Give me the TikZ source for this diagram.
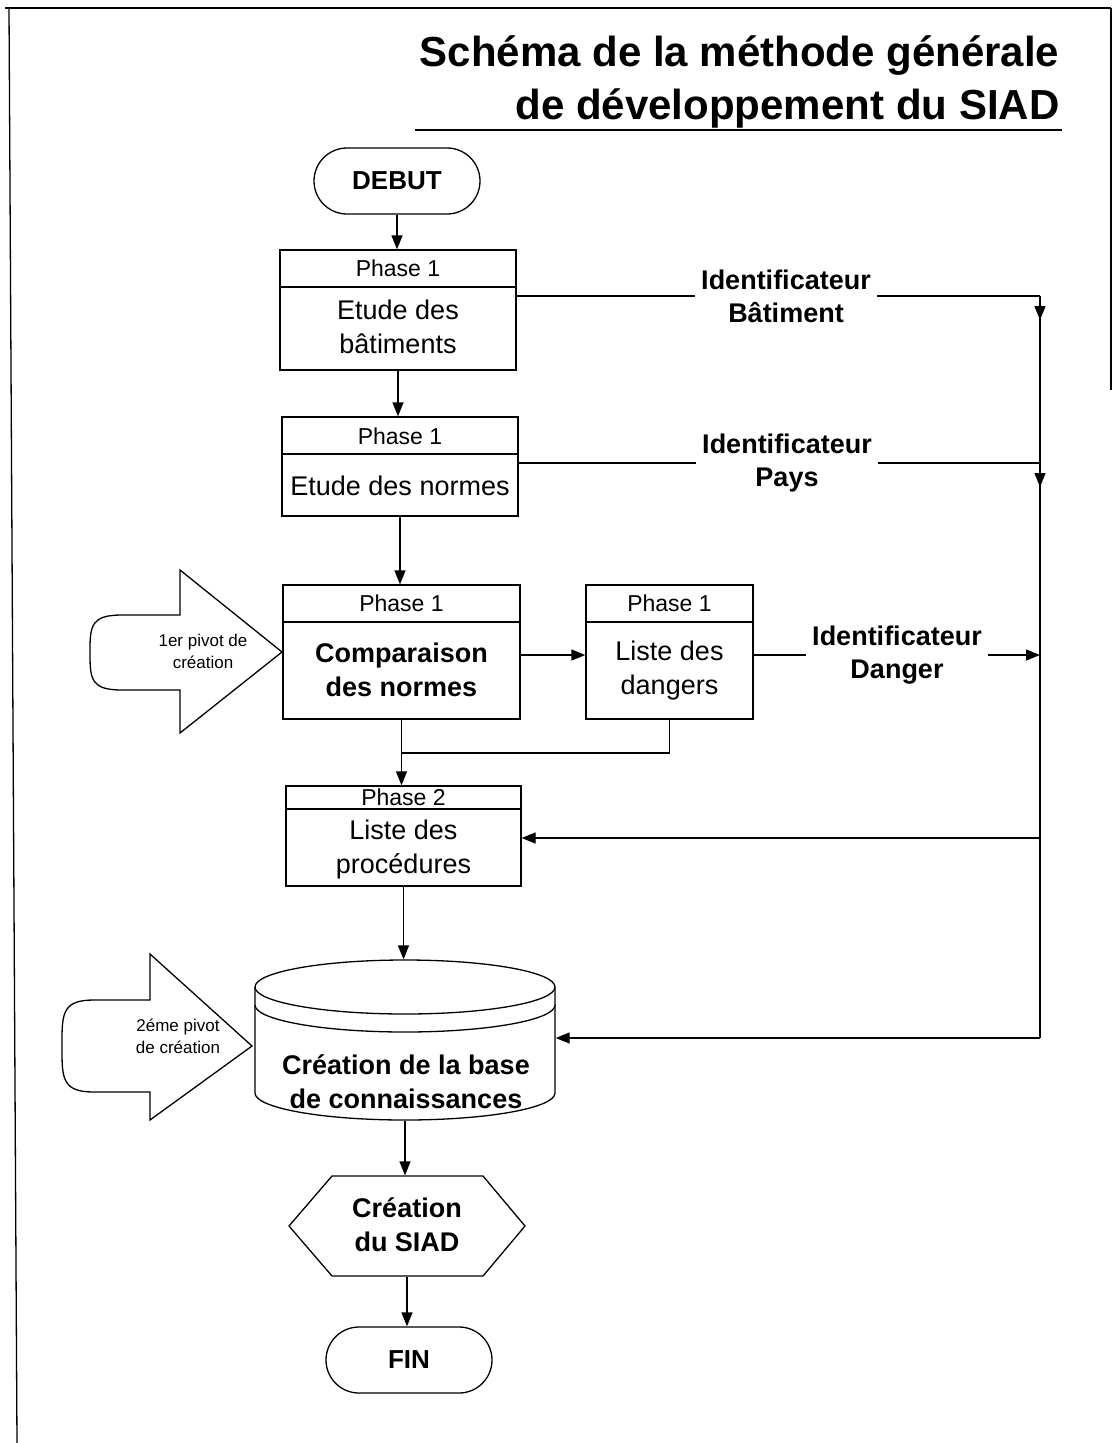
\documentclass[tikz,border=0pt]{standalone}
\usepackage{fontspec}
\setmainfont{Liberation Sans}
\usetikzlibrary{arrows.meta,shapes.misc,calc}
\begin{document}
\begin{tikzpicture}[x=1pt,y=-1pt,line width=1.3pt,
  arr/.style={-{Triangle[length=14pt,width=11pt]}},
  boxst/.style={draw,inner sep=0pt,fill=white},
  hdr/.style={font=\fontsize{23}{27}\selectfont,inner sep=0pt},
  bodyt/.style={font=\fontsize{27}{34}\selectfont,align=center,inner sep=0pt},
  bodyb/.style={font=\bfseries\fontsize{27}{34}\selectfont,align=center,inner sep=0pt},
  lbl/.style={font=\bfseries\fontsize{27}{33}\selectfont,align=center,inner xsep=6pt,inner ysep=0pt},
  term/.style={draw,fill=white,rounded rectangle,minimum width=166pt,minimum height=66pt,inner sep=0pt,font=\bfseries\fontsize{26}{30}\selectfont},
  pivt/.style={font=\fontsize{17}{22}\selectfont,align=center,inner sep=0pt},
  ttl/.style={font=\bfseries\fontsize{42}{48}\selectfont,inner sep=0pt}]
\useasboundingbox (0,0) rectangle (1114,1443);

% frame
\draw (5,8) -- (1111,8);
\draw (9,8) -- (17,1443);
\draw (1111,8) -- (1111,390);

% title
\node[ttl,anchor=base east] (t1) at (1060,66) {Schéma de la méthode générale};
\node[ttl,anchor=base east] (t2) at (1060,119) {de développement du SIAD};
\draw (415,130) -- (1062,130);

% start
\node[term] (debut) at (397,181) {DEBUT};

% box 1
\node[boxst,minimum width=236pt,minimum height=120pt] (b1) at (398,310) {};
\draw (280,287) -- (516,287);
\node[hdr] (h1) at (398,268) {Phase 1};
\node[bodyt] (t1b) at (398,327) {Etude des\\bâtiments};

% box 2
\node[boxst,minimum width=236pt,minimum height=99pt] (b2) at (400,466.5) {};
\draw (282,454) -- (518,454);
\node[hdr] (h2) at (400,436) {Phase 1};
\node[bodyt] (t2b) at (400,486) {Etude des normes};

% box 3
\node[boxst,minimum width=237pt,minimum height=134pt] (b3) at (401.5,652) {};
\draw (283,622) -- (520,622);
\node[hdr] (h3) at (401.5,603) {Phase 1};
\node[bodyb] (t3b) at (401.5,670) {Comparaison\\des normes};

% box 4
\node[boxst,minimum width=167pt,minimum height=134pt] (b4) at (669.5,652) {};
\draw (586,622) -- (753,622);
\node[hdr] (h4) at (669.5,603) {Phase 1};
\node[bodyt] (t4b) at (669.5,671) {Liste des\\dangers};

% box 5
\node[boxst,minimum width=235pt,minimum height=100pt] (b5) at (403.5,836) {};
\draw (286,809) -- (521,809);
\node[hdr] (h5) at (403.5,797) {Phase 2};
\node[bodyt] (t5b) at (403.5,850) {Liste des\\procédures};

% pivot arrows
\draw[fill=white] (180,570) -- (282,652) -- (180,733) -- (180,690) -- (122,690)
  .. controls (92,690) and (90,680) .. (90,655) -- (90,650)
  .. controls (90,625) and (92,615) .. (122,615) -- (180,615) -- cycle;
\node[pivt] (p1) at (203,651) {1er pivot de\\création};

\draw[fill=white] (150,954) -- (252,1046) -- (150,1120) -- (150,1092) -- (94,1092)
  .. controls (64,1092) and (62,1080) .. (62,1052) -- (62,1040)
  .. controls (62,1012) and (64,1000) .. (94,1000) -- (150,1000) -- cycle;
\node[pivt] (p2) at (178,1036) {2éme pivot\\de création};

% cylinder
\node[minimum width=300pt,minimum height=160pt,inner sep=0pt] (cyl) at (405,1040) {};
\draw[fill=white] (255,987) -- (255,1093) arc[start angle=180,end angle=360,x radius=150pt,y radius=27pt]
  -- (555,987) arc[start angle=0,end angle=180,x radius=150pt,y radius=27pt] -- cycle;
\draw (255,987) arc[start angle=180,end angle=360,x radius=150pt,y radius=27pt];
\draw (255,1005) arc[start angle=180,end angle=360,x radius=150pt,y radius=27pt];
\node[bodyb] (tc) at (406,1082) {Création de la base\\de connaissances};

% hexagon
\node[minimum width=236pt,minimum height=100pt,inner sep=0pt] (hex) at (407,1226) {};
\draw[fill=white] (332,1176) -- (483,1176) -- (525,1226) -- (483,1276) -- (332,1276) -- (289,1226) -- cycle;
\node[bodyb] (th) at (407,1225) {Création\\du SIAD};

% end
\node[term] (fin) at (409,1360) {FIN};

% labels
\node[lbl] (lb1) at (786,296) {Identificateur\\Bâtiment};
\node[lbl] (lb2) at (787,463) {Identificateur\\Pays};
\node[lbl] (lb3) at (897,655) {Identificateur\\Danger};

\coordinate (c1) at (1040,296);
\coordinate (c2) at (1040,463);
\coordinate (c3) at (1040,655);
\coordinate (c4) at (1040,838);
\coordinate (c5) at (1040,1038);
\coordinate (j) at (402,753);

% main flow
\draw[arr] (debut.south) -- (debut.south |- b1.north);
\draw[arr] (b1.south) -- (b1.south |- b2.north);
\draw[arr] (b2.south) -- (b2.south |- b3.north);
\draw[arr] (b3.south) -- (b3.south |- b5.north);
\draw (b4.south) |- (j);
\draw[arr] (b3.east |- c3) -- (b4.west |- c3);
\draw[arr] (b5.south) -- (b5.south |- cyl.north);
\draw[arr] (cyl.south) -- (cyl.south |- hex.north);
\draw[arr] (hex.south) -- (hex.south |- fin.north);

% identifier lines
\draw (b1.east |- c1) -- (lb1.west |- c1);
\draw (lb1.east |- c1) -- (c1);
\draw (b2.east |- c2) -- (lb2.west |- c2);
\draw (lb2.east |- c2) -- (c2);
\draw (b4.east |- c3) -- (lb3.west |- c3);
\draw[arr] (lb3.east |- c3) -- (c3);
\draw (c1) -- (c5);
\draw[arr] (c1) -- ++(0,24);
\draw[arr] (c2) -- ++(0,24);
\draw[arr] (c4) -- (b5.east |- c4);
\draw[arr] (c5) -- (cyl.east |- c5);
\end{tikzpicture}
\end{document}
